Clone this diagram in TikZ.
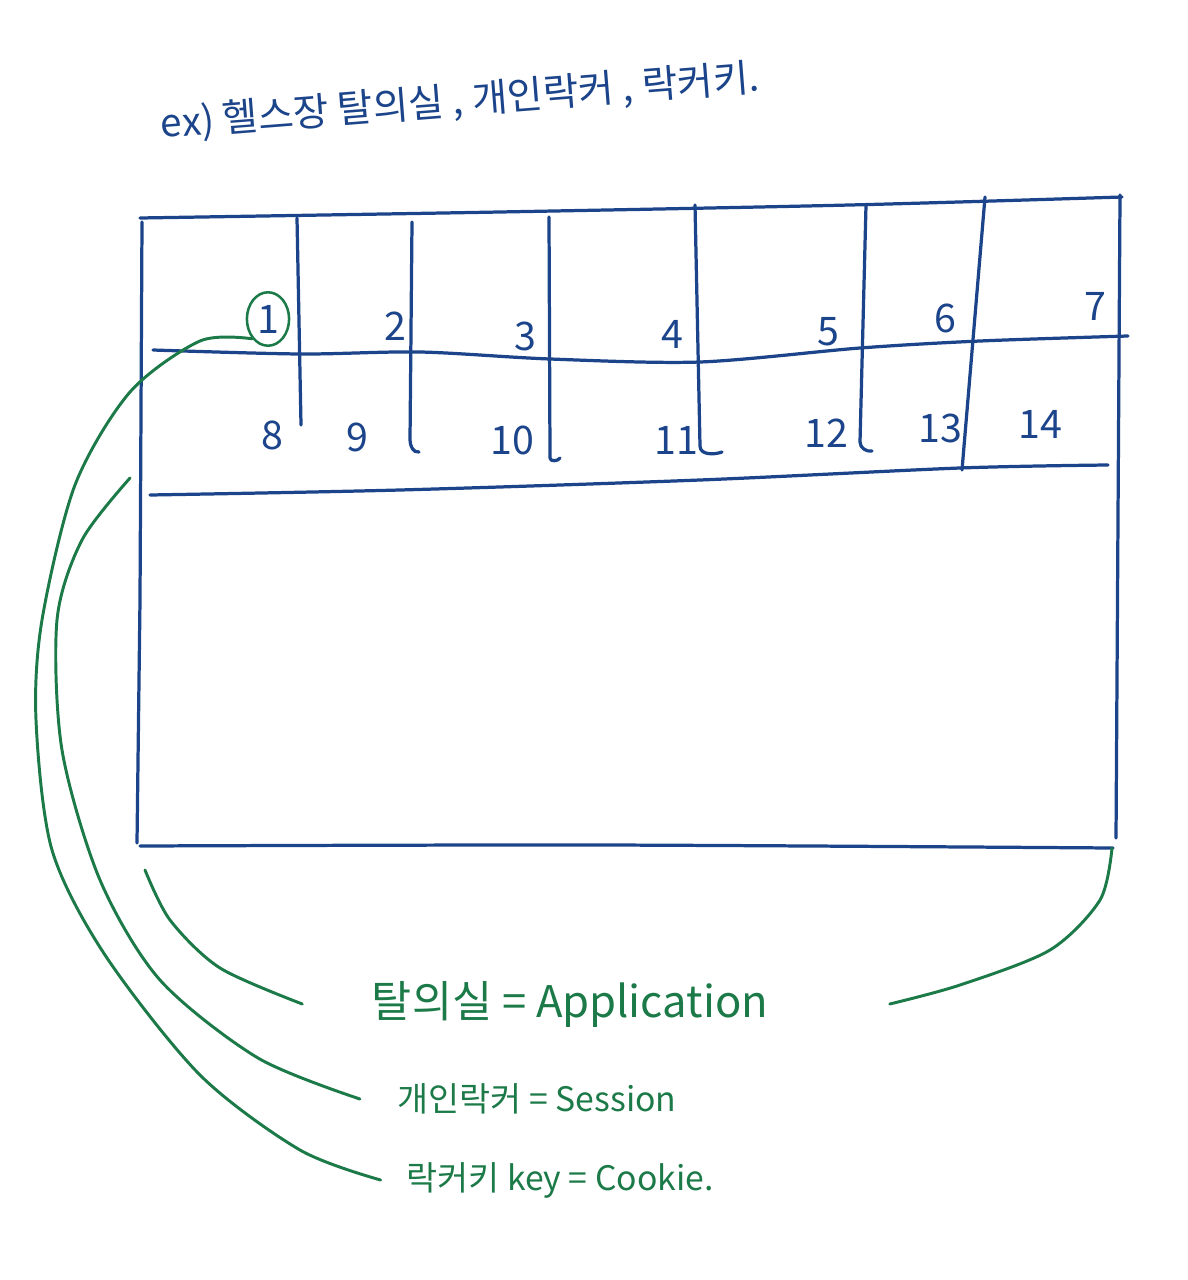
\documentclass[tikz,border=0pt]{standalone}
\usepackage{fontspec}
\newfontfamily\kr{Noto Sans CJK KR}
\usetikzlibrary{shapes.geometric, positioning}
\definecolor{penblue}{RGB}{28,68,138}
\definecolor{pengreen}{RGB}{28,122,72}

\begin{document}
\begin{tikzpicture}[x=0.025cm, y=-0.025cm,
    box/.style={draw=penblue, line width=2.3pt, line cap=round, line join=round},
    num/.style={text=penblue, font=\kr\fontsize{28}{30}\selectfont, inner sep=1pt},
    note/.style={text=pengreen, font=\kr\fontsize{24}{28}\selectfont, inner sep=1pt},
    link/.style={draw=pengreen, line width=2.1pt, line cap=round}
]
\useasboundingbox (0,0) rectangle (1188,1280);

% Title
\node[text=penblue, font=\kr\fontsize{27.5}{30}\selectfont, rotate=4.5, anchor=west] (title) at (156,126) {ex)\ 헬스장 탈의실 ,\ 개인락커 ,\ 락커키.};

% Locker frame
\draw[box] plot[smooth] coordinates {(140,218) (500,212) (850,205) (1122,197)};
\draw[box] (142,222) -- (140,600) -- (137,843);
\draw[box] (1120,195) -- (1116,838);
\draw[box] plot[smooth] coordinates {(140,846) (600,845) (1113,848)};
\draw[box] plot[smooth] coordinates {(153,350) (300,354) (420,352) (550,359) (700,362) (860,348) (980,341) (1128,336)};
\draw[box] plot[smooth] coordinates {(150,495) (400,490) (700,480) (960,468) (1108,465)};

% Doors
\draw[box] (297,218) -- (301,425);
\draw[box] (412,222) -- (410,440) to[out=-90,in=190] (419,452);
\draw[box] (549,217) -- (550,458) to[out=-90,in=240] (560,458);
\draw[box] (695,205) -- (700,446) to[out=-90,in=200] (722,452);
\draw[box] (866,205) -- (860,442) to[out=-90,in=190] (872,451);
\draw[box] (985,197) -- (962,470);

% Locker numbers
\node[num, draw=pengreen, line width=1.8pt, ellipse, minimum width=30pt, minimum height=38pt, inner sep=0pt] (n1) at (268,319) {1};
\node[num] (n2) at (395,326) {2};
\node[num] (n3) at (525,336) {3};
\node[num] (n4) at (672,334) {4};
\node[num] (n5) at (828,332) {5};
\node[num] (n6) at (945,318) {6};
\node[num] (n7) at (1095,306) {7};
\node[num] (n8) at (272,435) {8};
\node[num] (n9) at (357,437) {9};
\node[num] (n10) at (512,440) {10};
\node[num] (n11) at (676,440) {11};
\node[num] (n12) at (826,433) {12};
\node[num] (n13) at (940,428) {13};
\node[num] (n14) at (1040,424) {14};

% Meanings
\node[note, font=\kr\fontsize{31}{34}\selectfont] (app) at (570,1004) {탈의실 = Application};
\node[note] (session) at (537,1099) {개인락커 = Session};
\node[note] (cookie) at (560,1180) {락커키 key = Cookie.};

% Connections
\coordinate (lockerleft) at (130,478);
\coordinate (roomleft) at (145,870);
\coordinate (roomright) at (1112,848);
\draw[link] plot[smooth] coordinates {(n1.south west) (200,341) (130,392) (75,485) (42,620) (36,720) (52,850) (105,955) (200,1075) (300,1150) ([xshift=-0.6cm]cookie.west)};
\draw[link] plot[smooth] coordinates {(lockerleft) (82,540) (57,620) (62,750) (100,880) (160,980) (258,1058) ([xshift=-0.9cm]session.west)};
\draw[link] plot[smooth] coordinates {(roomleft) (170,920) (220,968) ([xshift=-1.7cm]app.west)};
\draw[link] plot[smooth] coordinates {(roomright) (1100,900) (1050,950) (960,985) ([xshift=3cm]app.east)};

\end{tikzpicture}
\end{document}
